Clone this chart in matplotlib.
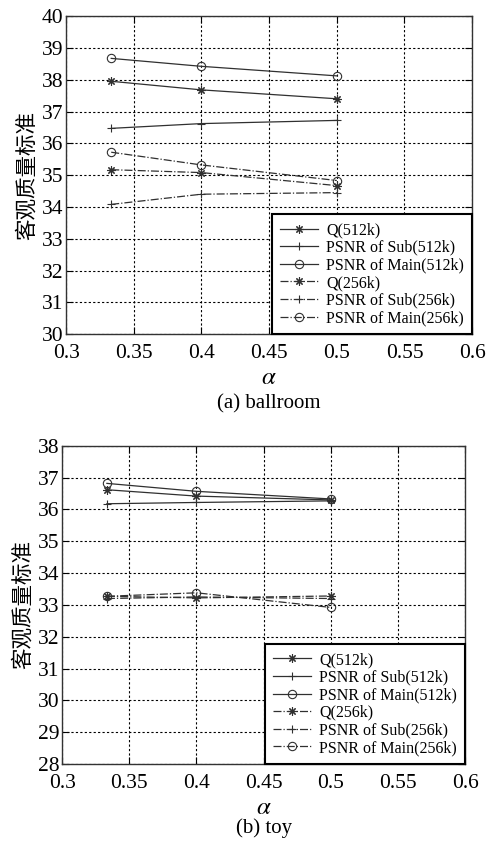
import matplotlib
matplotlib.use("Agg")
import matplotlib.pyplot as plt

plt.rcParams['font.family'] = ['Liberation Serif', 'Noto Sans CJK SC']
plt.rcParams['mathtext.fontset'] = 'stix'

alpha = [1 / 3, 0.4, 0.5]

labels = ["Q(512k)", "PSNR of Sub(512k)", "PSNR of Main(512k)",
          "Q(256k)", "PSNR of Sub(256k)", "PSNR of Main(256k)"]

# ballroom
ballroom_q512 = [37.95, 37.68, 37.40]
ballroom_sub512 = [36.47, 36.62, 36.72]
ballroom_main512 = [38.67, 38.42, 38.12]
ballroom_q256 = [35.17, 35.08, 34.67]
ballroom_sub256 = [34.08, 34.40, 34.45]
ballroom_main256 = [35.72, 35.32, 34.83]

# toy
toy_q512 = [36.62, 36.42, 36.30]
toy_sub512 = [36.18, 36.22, 36.27]
toy_main512 = [36.82, 36.57, 36.33]
toy_q256 = [33.27, 33.22, 33.28]
toy_sub256 = [33.20, 33.25, 33.20]
toy_main256 = [33.27, 33.38, 32.92]

asterisk = (8, 2, 0)
styles = [('-', asterisk), ('-', '+'), ('-', 'o'),
          ('-.', asterisk), ('-.', '+'), ('-.', 'o')]


def draw_panel(ax, series, ylim, caption):
    for values, label, (ls, mk) in zip(series, labels, styles):
        ax.plot(alpha, values, linestyle=ls, marker=mk, markerfacecolor='none',
                color='#303030', linewidth=0.9, markersize=6,
                markeredgewidth=0.8, label=label)
    ax.set_xlim(0.3, 0.6)
    ax.set_ylim(*ylim)
    ax.set_xticks([0.3, 0.35, 0.4, 0.45, 0.5, 0.55, 0.6])
    ax.set_xticklabels(["0.3", "0.35", "0.4", "0.45", "0.5", "0.55", "0.6"])
    ax.set_yticks(range(ylim[0], ylim[1] + 1))
    ax.grid(True, color='black', linestyle=(0, (2, 2)), linewidth=0.8)
    ax.tick_params(direction='in', top=True, right=True, labelsize=15.5, length=5)
    ax.tick_params(axis='x', pad=7)
    ax.tick_params(axis='y', pad=2)
    for sp in ax.spines.values():
        sp.set_linewidth(1.0)
        sp.set_color('#333333')
    ax.set_ylabel("客观质量标准", fontsize=15.5, family=['Noto Sans CJK SC'], labelpad=3)
    ax.set_xlabel(r"$\alpha$", fontsize=18, labelpad=3)
    leg = ax.legend(loc='lower right', bbox_to_anchor=(1.0, 0.0), borderaxespad=0,
                    fancybox=False, edgecolor='black', fontsize=11.5, handlelength=2.4,
                    labelspacing=0.1, borderpad=0.5, handletextpad=0.5, framealpha=1)
    leg.get_frame().set_linewidth(1.5)
    ax.text(0.5, caption[1], caption[0], transform=ax.transAxes, ha='center',
            va='top', fontsize=15)


fig = plt.figure(figsize=(4.97, 8.46), dpi=100)
ax1 = fig.add_axes([0.133, 0.605, 0.817, 0.376])
ax2 = fig.add_axes([0.125, 0.097, 0.811, 0.376])

draw_panel(ax1, [ballroom_q512, ballroom_sub512, ballroom_main512,
                 ballroom_q256, ballroom_sub256, ballroom_main256],
           (30, 40), ("(a) ballroom", -0.19))
draw_panel(ax2, [toy_q512, toy_sub512, toy_main512,
                 toy_q256, toy_sub256, toy_main256],
           (28, 38), ("(b) toy", -0.17))

plt.savefig("out.png", dpi=100)
